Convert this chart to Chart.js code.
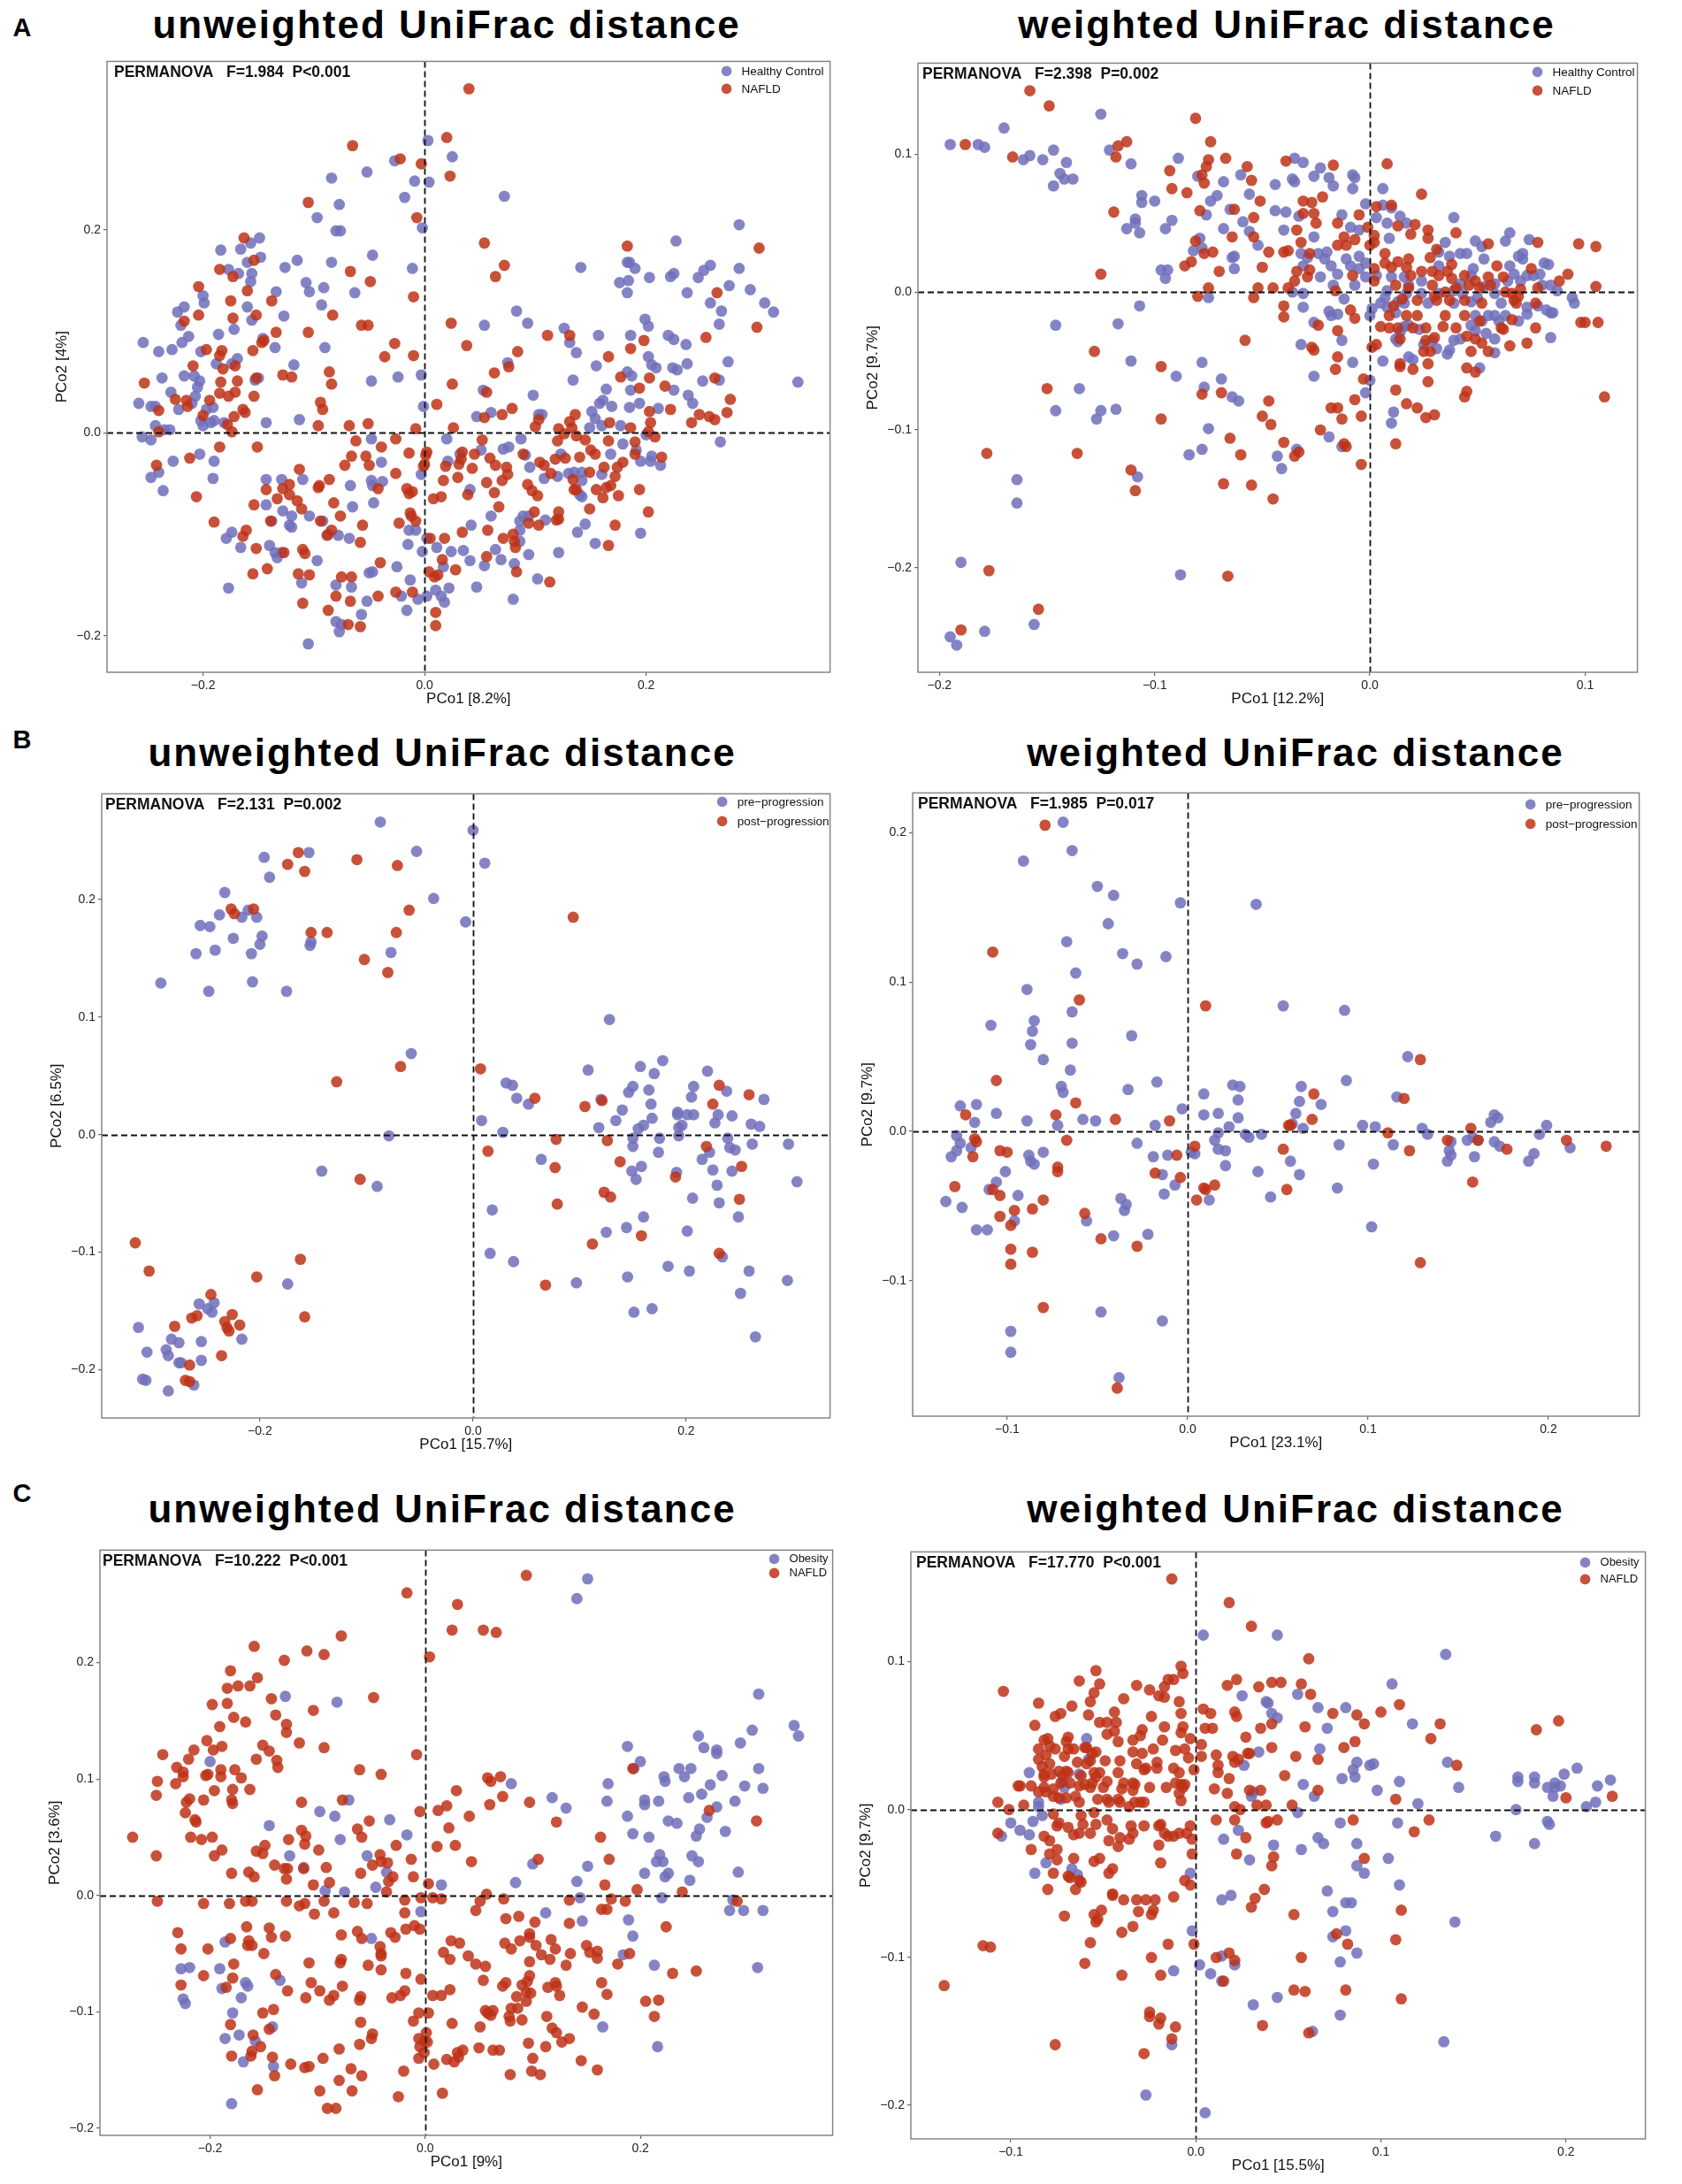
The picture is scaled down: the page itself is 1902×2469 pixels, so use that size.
<!DOCTYPE html>
<html><head><meta charset="utf-8">
<script src="https://cdn.jsdelivr.net/npm/chart.js@4.4.1/dist/chart.umd.min.js"></script>
<style>
body{margin:0;background:#fff;width:1902px;height:2469px;position:relative;overflow:hidden;font-family:"Liberation Sans",Arial,sans-serif}
.box{position:absolute}
.title{position:absolute;transform:translate(-50%,-50%);font-weight:bold;font-size:44px;letter-spacing:2px;white-space:nowrap;color:#000;line-height:1}
.letter{position:absolute;transform:translate(-50%,-50%);font-weight:bold;font-size:29px;color:#000;line-height:1}
</style></head><body>
<script>
// ---------- tick values ----------
const A1_xticks=[-0.2,0,0.2], A1_yticks=[-0.2,0,0.2];
const A2_xticks=[-0.2,-0.1,0,0.1], A2_yticks=[-0.2,-0.1,0,0.1];
const B1_xticks=[-0.2,0,0.2], B1_yticks=[-0.2,-0.1,0,0.1,0.2];
const B2_xticks=[-0.1,0,0.1,0.2], B2_yticks=[-0.1,0,0.1,0.2];
const C1_xticks=[-0.2,0,0.2], C1_yticks=[-0.2,-0.1,0,0.1,0.2];
const C2_xticks=[-0.1,0,0.1,0.2], C2_yticks=[-0.2,-0.1,0,0.1];

// ---------- group labels ----------
const groupsA=["Healthy Control","NAFLD"];
const groupsB=["pre\u2212progression","post\u2212progression"];
const groupsC=["Obesity","NAFLD"];

// ---------- A: unweighted ----------
const A1_hc=[[.003,.288],[.025,.272],[-.027,.268],[-.052,.257],[-.009,.248],[.004,.247],[-.084,.251],[-.018,.232],[-.077,.225],[.072,.233],[-.097,.212],[-.002,.202],[-.080,.199],[-.076,.199],[-.047,.175],[-.084,.168],[-.011,.162],[-.115,.170],[-.126,.163],[-.107,.148],[-.104,.139],[-.091,.143],[-.093,.126],[-.063,.138],[-.127,.115],[-.090,.084],[-.118,.067],[-.048,.051],[-.024,.055],[-.003,.057],[-.001,.026],[.083,.120],[.093,.108],[.054,.106],[.075,.069],[.053,.042],[.047,.016],[.060,.020],[.098,.037],[.103,.018],[.106,.018],[.134,.052],[.137,.079],[.126,.103],[.131,.089],[.157,.096],[.155,.066],[.141,.163],[.183,.168],[.185,.168],[.190,.162],[.176,.148],[.184,.150],[.183,.138],[.203,.153],[.227,.189],[.222,.154],[.225,.157],[.237,.138],[.247,.153],[.252,.160],[.258,.165],[.284,.205],[.284,.162],[.275,.145],[.294,.141],[.258,.128],[.268,.120],[.266,.107],[.307,.128],[.315,.119],[.199,.112],[.202,.105],[.186,.096],[.220,.096],[.225,.092],[.236,.087],[.202,.075],[.205,.067],[.209,.064],[.224,.064],[.228,.062],[.237,.068],[.251,.051],[.266,.052],[.274,.070],[.337,.050],[.183,.060],[.187,.056],[.186,.042],[.194,.029],[.185,.025],[.169,.026],[.161,.032],[.164,.043],[.158,.029],[.151,.021],[.154,.014],[.160,.007],[.149,.005],[.177,.007],[.211,.024],[.225,.042],[.238,.037],[.242,.029],[.267,-.009],[.200,-.002],[.179,-.011],[.191,-.017],[.205,-.023],[.204,-.028],[.213,-.032],[.195,-.028],[.168,-.021],[.160,-.041],[.142,-.039],[.135,-.039],[.130,-.040],[.142,-.047],[.140,-.061],[.142,-.063],[.123,-.021],[.120,-.043],[.108,-.045],[.091,-.022],[.095,-.034],[.195,-.099],[.138,-.098],[.145,-.090],[.154,-.109],[.121,-.118],[.109,-.086],[.094,-.082],[.089,-.082],[.086,-.087],[.086,-.096],[.086,-.107],[.094,-.120],[.081,-.129],[.080,-.164],[.102,-.144],[.069,-.125],[.064,-.115],[.060,-.082],[.054,-.131],[.047,-.152],[.041,-.126],[.035,-.116],[.042,-.091],[.041,-.056],[.032,-.021],[.021,-.028],[.020,-.006],[.051,-.017],[.071,-.016],[.076,-.014],[.087,-.006],[-.003,-.041],[.002,-.104],[-.002,-.117],[-.008,-.096],[-.014,-.096],[-.015,-.110],[-.025,-.132],[-.013,-.145],[-.021,-.161],[-.016,-.175],[-.006,-.164],[.002,-.161],[.010,-.155],[.015,-.161],[.018,-.167],[.017,-.132],[.022,-.153],[.011,-.113],[.024,-.117],[-.039,-.029],[-.038,-.048],[-.048,-.047],[-.046,-.069],[-.047,-.052],[-.065,-.073],[-.067,-.052],[-.048,-.006],[-.047,-.137],[-.050,-.138],[-.052,-.166],[-.057,-.179],[-.080,-.150],[-.066,-.152],[-.080,-.186],[-.077,-.196],[-.075,-.189],[-.105,-.208],[-.111,-.148],[-.097,-.126],[-.092,-.087],[-.087,-.100],[-.078,-.101],[-.068,-.104],[-.120,-.082],[-.104,-.082],[-.122,-.091],[-.120,-.093],[-.138,-.087],[-.140,-.111],[-.135,-.118],[-.133,-.123],[-.129,-.118],[-.143,-.046],[-.129,-.046],[-.110,-.046],[-.174,-.098],[-.179,-.104],[-.166,-.113],[-.177,-.153],[-.143,-.071],[-.128,-.077],[-.254,.089],[-.240,.080],[-.237,.054],[-.258,.029],[-.247,.026],[-.243,.026],[-.243,.007],[-.255,-.004],[-.247,-.007],[-.235,.003],[-.230,.003],[-.228,.082],[-.223,.119],[-.217,.124],[-.220,.106],[-.213,.095],[-.219,.089],[-.229,.040],[-.222,.023],[-.217,.056],[-.208,.056],[-.203,.051],[-.200,.135],[-.199,.128],[-.184,.180],[-.177,.161],[-.166,.181],[-.160,.168],[-.157,.187],[-.149,.192],[-.148,.173],[-.168,.157],[-.156,.157],[-.157,.149],[-.134,.139],[-.160,.124],[-.156,.111],[-.172,.102],[-.186,.097],[-.169,.073],[-.174,.068],[-.188,.068],[-.202,.080],[-.205,.045],[-.207,.036],[-.210,.029],[-.202,.012],[-.200,.007],[-.193,.010],[-.190,.012],[-.197,.023],[-.191,.025],[-.181,.010],[-.150,.054],[-.153,.052],[-.143,.010],[-.135,.084],[-.146,.093],[-.203,-.021],[-.190,-.028],[-.191,-.045],[-.227,-.028],[-.240,-.039],[-.247,-.044],[-.236,-.057],[-.113,.013]];
const A1_nafld=[[.040,.339],[-.065,.283],[.020,.291],[-.022,.270],[-.003,.265],[.023,.253],[-.105,.227],[-.007,.212],[.054,.187],[.183,.184],[.302,.182],[.072,.165],[.064,.154],[-.067,.159],[-.049,.149],[-.010,.134],[-.083,.116],[-.057,.106],[-.051,.106],[.024,.108],[-.105,.099],[-.027,.088],[-.036,.075],[-.010,.076],[.038,.086],[.111,.096],[.131,.096],[.084,.080],[.300,.104],[.254,.094],[.264,.138],[.186,.083],[.166,.075],[.198,.091],[-.086,.060],[-.084,.048],[-.128,.057],[-.120,.055],[.063,.059],[.076,.065],[.025,.048],[.056,.040],[.177,.055],[.194,.044],[.203,.054],[.217,.046],[.262,.054],[.276,.033],[.248,.018],[.257,.016],[.262,.013],[.273,.020],[.241,.010],[.222,.023],[.203,.021],[.204,.010],[.167,.010],[.186,.005],[.136,.018],[.131,.011],[.133,.005],[.121,.004],[.100,.006],[.103,.013],[.079,.024],[.011,.028],[-.094,.030],[-.092,.023],[-.096,.007],[-.068,.007],[-.051,.009],[-.008,.004],[.026,.005],[.054,.015],[.070,.018],[-.204,.144],[-.185,.161],[-.163,.192],[-.173,.154],[-.160,.140],[-.154,.170],[-.138,.130],[-.152,.116],[-.175,.130],[-.204,.116],[-.217,.110],[-.173,.113],[-.197,.082],[-.209,.066],[-.183,.081],[-.185,.076],[-.182,.063],[-.171,.066],[-.145,.091],[-.147,.089],[-.134,.099],[-.155,.081],[-.169,.051],[-.184,.050],[-.225,.033],[-.215,.032],[-.214,.026],[-.194,.032],[-.185,.039],[-.177,.036],[-.171,.040],[-.152,.054],[-.154,.036],[-.164,.023],[-.162,.020],[-.172,.016],[-.200,.017],[-.253,.049],[-.240,.022],[-.240,.001],[-.178,.008],[-.174,.001],[-.185,-.014],[-.151,-.014],[-.212,-.025],[-.242,-.032],[-.206,-.063],[-.190,-.088],[-.143,-.056],[-.133,-.065],[-.154,-.071],[-.128,-.055],[-.122,-.051],[-.113,-.036],[-.122,-.061],[-.115,-.067],[-.111,-.075],[-.139,-.087],[-.161,-.096],[-.164,-.102],[-.152,-.114],[-.155,-.139],[-.142,-.134],[-.127,-.118],[-.110,-.115],[-.108,-.119],[-.114,-.139],[-.104,-.140],[-.110,-.168],[-.095,-.052],[-.096,-.054],[-.086,-.046],[-.072,-.032],[-.066,-.023],[-.062,-.008],[-.053,-.023],[-.050,-.032],[-.039,-.014],[-.026,-.006],[-.014,-.020],[-.026,-.040],[-.042,-.055],[-.082,-.069],[-.076,-.082],[-.094,-.087],[-.088,-.101],[-.084,-.096],[-.058,-.108],[-.056,-.091],[-.075,-.142],[-.066,-.142],[-.080,-.161],[-.067,-.166],[-.087,-.175],[-.058,-.191],[-.069,-.189],[-.042,-.161],[-.040,-.128],[-.026,-.157],[-.023,-.089],[-.016,-.055],[-.014,-.060],[-.011,-.058],[-.013,-.079],[-.012,-.082],[-.008,-.087],[.001,-.022],[.002,-.019],[.000,-.031],[-.001,-.033],[.008,-.065],[.015,-.063],[.017,-.047],[.019,-.033],[.031,-.031],[.030,-.044],[.039,-.061],[.045,-.021],[.043,-.035],[.052,-.007],[.034,-.019],[.033,-.026],[.005,-.104],[.018,-.104],[.016,-.125],[.004,-.137],[.009,-.142],[.012,-.140],[.010,-.177],[.010,-.190],[-.011,-.157],[.028,-.135],[.034,-.098],[.057,-.096],[.071,-.104],[.056,-.122],[.059,-.025],[.064,-.032],[.056,-.049],[.063,-.059],[.070,-.047],[.074,-.034],[.075,-.041],[.067,-.073],[.089,-.021],[.093,-.051],[.097,-.057],[.102,-.062],[.104,-.029],[.108,-.032],[.114,-.040],[.118,-.026],[.099,-.078],[.103,-.091],[.094,-.089],[.080,-.100],[.081,-.107],[.082,-.113],[.083,-.137],[.113,-.147],[.121,-.078],[.121,-.085],[.119,-.086],[.120,-.008],[.127,-.025],[.134,-.046],[.135,-.056],[.137,-.056],[.140,-.024],[.145,-.007],[.150,-.017],[.154,-.021],[.162,-.034],[.155,-.056],[.149,-.075],[.161,-.064],[.164,-.054],[.168,-.052],[.172,-.043],[.166,-.008],[.179,-.029],[.190,-.021],[.190,-.009],[.194,-.056],[.175,-.062],[.172,-.091],[.166,-.111],[.202,-.078],[.214,-.024],[.208,-.004],[.202,.001],[.126,-.001],[.137,-.003],[.149,-.039],[.174,-.034]];

// ---------- A: weighted ----------
const A2_hc=[[-.195,.107],[-.182,.107],[-.179,.105],[-.170,.119],[-.161,.096],[-.158,.099],[-.152,.096],[-.147,.103],[-.141,.094],[-.144,.086],[-.142,.082],[-.138,.082],[-.147,.077],[-.125,.129],[-.121,.103],[-.111,.093],[-.089,.097],[-.106,.070],[-.106,.065],[-.100,.066],[-.109,.053],[-.109,.050],[-.113,.046],[-.107,.043],[-.092,.052],[-.095,.046],[-.097,.016],[-.094,.016],[-.095,.010],[-.107,-.010],[-.117,-.023],[-.146,-.024],[-.111,-.050],[-.090,-.061],[-.127,-.092],[-.125,-.086],[-.118,-.085],[-.135,-.070],[-.146,-.086],[-.164,-.136],[-.164,-.153],[-.190,-.196],[-.195,-.250],[-.192,-.256],[-.179,-.246],[-.156,-.241],[-.088,-.205],[-.108,-.134],[-.084,-.118],[-.078,-.114],[-.075,-.099],[-.077,-.069],[-.078,-.051],[-.069,-.063],[-.064,-.076],[-.061,-.079],[-.043,-.119],[-.041,-.128],[-.034,-.114],[-.026,-.061],[-.032,-.038],[-.019,-.105],[-.013,-.112],[-.008,-.051],[-.002,-.073],[.000,-.064],[.010,-.095],[.011,-.087],[.006,-.050],[.018,-.047],[.020,-.049],[.012,-.034],[.013,-.036],[-.080,.084],[-.068,.080],[-.060,.085],[-.071,.070],[-.074,.066],[-.056,.071],[-.065,.060],[-.059,.051],[-.056,.044],[-.052,.034],[-.068,.046],[-.076,.056],[-.079,.039],[-.082,.030],[-.078,.032],[-.063,.026],[-.064,.025],[-.063,.017],[-.075,-.004],[-.044,.078],[-.036,.082],[-.035,.080],[-.035,.097],[-.031,.094],[-.026,.084],[-.023,.090],[-.019,.083],[-.017,.077],[-.008,.085],[-.007,.083],[-.008,.075],[.006,.075],[-.002,.064],[.006,.063],[.010,.061],[.003,.054],[.008,.050],[.014,.055],[.017,.050],[.009,.039],[.039,.054],[.035,.036],[-.044,.059],[-.040,.045],[-.039,.058],[-.033,.055],[-.026,.040],[-.032,.028],[-.031,.019],[-.029,.025],[-.024,.028],[-.021,.024],[-.020,.029],[-.018,.019],[-.013,.056],[-.009,.047],[-.005,.045],[-.005,.026],[-.011,.024],[-.009,.019],[-.015,.013],[-.017,.005],[-.023,.011],[-.031,-.001],[-.036,.000],[-.012,-.005],[-.007,.005],[-.002,.021],[-.005,.017],[-.002,.011],[.003,.012],[.008,.001],[.007,-.004],[.005,-.008],[.001,-.012],[.000,-.017],[.013,-.007],[.016,-.008],[.008,-.011],[.017,-.001],[.012,-.015],[.016,-.025],[.014,-.029],[-.019,-.014],[-.018,-.017],[-.015,-.016],[-.031,-.011],[-.026,-.022],[-.013,-.035],[.010,.011],[.016,.011],[.018,.005],[.024,.008],[.024,-.001],[.027,-.008],[.032,-.001],[.032,.019],[.032,.029],[.037,.026],[.042,.028],[.045,.028],[.049,.037],[.052,.033],[.053,.024],[.048,.017],[.047,.012],[.042,.006],[.039,.001],[.043,-.001],[.039,-.008],[.047,-.007],[.050,-.004],[.053,.004],[.058,.006],[.058,-.001],[.061,-.008],[.063,-.017],[.060,-.021],[.055,-.017],[.052,-.021],[.049,-.017],[.047,-.024],[.049,-.028],[.054,-.030],[.058,-.034],[.058,-.044],[.051,-.055],[.042,-.034],[.039,-.035],[.037,-.042],[.036,-.045],[.031,-.041],[.029,-.035],[.025,-.038],[.018,-.024],[.023,-.027],[.065,.043],[.063,.037],[.069,.026],[.071,.024],[.074,.038],[.071,.028],[.065,.019],[.067,.013],[.064,.008],[.070,.008],[.073,.012],[.076,.012],[.079,.013],[.081,.021],[.083,.020],[.080,.005],[.084,.005],[.087,.001],[.094,-.004],[.095,-.008],[.082,-.013],[.084,-.015],[.085,-.015],[.078,-.010],[.073,-.011],[.073,-.016],[.069,-.021],[.084,-.033],[.058,-.017]];
const A2_nafld=[[-.158,.146],[-.149,.135],[-.188,.107],[-.166,.098],[-.081,.126],[-.074,.109],[-.113,.109],[-.117,.106],[-.118,.098],[-.067,.097],[-.075,.096],[-.076,.091],[-.078,.085],[-.077,.079],[-.093,.088],[-.092,.075],[-.085,.072],[-.057,.091],[-.055,.081],[-.039,.095],[-.017,.092],[.008,.093],[.024,.071],[-.051,.066],[-.063,.060],[-.054,.054],[-.079,.059],[-.119,.058],[-.081,.037],[-.077,.028],[-.073,.029],[-.083,.022],[-.086,.019],[-.070,.015],[-.064,.040],[-.054,.040],[-.047,.029],[-.050,.018],[-.040,.029],[-.038,.030],[-.034,.045],[-.031,.066],[-.027,.065],[-.031,.057],[-.026,.057],[-.025,.050],[-.022,.069],[-.032,.036],[-.028,.028],[-.035,.008],[-.034,.015],[-.029,.011],[-.028,.016],[-.038,.003],[-.045,.003],[-.052,.003],[-.054,-.004],[-.080,-.003],[-.075,.003],[-.125,.013],[-.015,.050],[-.012,.040],[-.015,.034],[-.011,.034],[-.005,.056],[-.007,.038],[-.001,.047],[.002,.041],[.002,.036],[.002,.017],[.002,.008],[.000,.034],[.010,.063],[.003,.062],[.007,.028],[.007,.021],[.013,.048],[.019,.042],[.021,.049],[.027,.045],[.027,.039],[.031,.031],[.028,.025],[.018,.024],[.013,.022],[.010,.018],[.017,.018],[.019,.012],[.024,.015],[.029,.015],[.032,.012],[.036,.015],[.038,.020],[.040,.043],[.038,.010],[.040,.003],[.035,.000],[.029,.005],[.030,-.003],[.037,-.006],[.031,-.006],[.022,-.006],[.022,-.017],[.018,.003],[.012,.005],[.015,-.005],[.011,-.010],[.017,-.017],[.009,-.017],[.005,-.025],[.009,-.026],[.013,-.026],[.020,-.026],[.026,-.026],[.026,-.035],[.030,-.033],[.028,-.043],[.025,-.043],[.014,-.034],[.001,-.040],[.003,-.038],[.014,-.052],[.014,-.054],[.020,-.056],[.027,-.052],[.027,-.065],[.012,-.071],[.017,-.081],[.022,-.084],[.026,-.091],[.030,-.089],[.012,-.110],[.034,-.025],[.040,-.026],[.035,-.017],[.044,-.017],[.044,-.006],[.046,.005],[.051,.003],[.055,.011],[.056,.005],[.055,.035],[.059,.019],[.062,.011],[.063,.000],[.066,-.001],[.068,-.008],[.069,-.003],[.070,.002],[.067,-.006],[.066,-.020],[.052,-.008],[.051,-.021],[.045,-.032],[.049,-.034],[.047,-.043],[.052,-.037],[.055,-.043],[.062,-.027],[.061,-.026],[.065,-.039],[.073,-.037],[.077,-.026],[.077,-.008],[.078,.003],[.075,.017],[.078,.036],[.088,.008],[.092,.013],[.097,.035],[.105,.033],[.105,.004],[.098,-.022],[.100,-.022],[.106,-.022],[.109,-.076],[.045,-.055],[.049,-.058],[.045,-.072],[.044,-.076],[.044,.012],[.049,.008],[-.007,-.019],[-.009,-.013],[-.008,.012],[-.016,.001],[-.024,-.024],[-.015,-.028],[-.027,-.040],[-.026,-.042],[-.015,-.047],[-.058,-.035],[-.040,-.010],[-.040,-.018],[-.016,-.056],[-.003,-.063],[-.007,-.078],[-.004,-.090],[-.018,-.084],[-.015,-.084],[-.013,-.092],[-.023,-.100],[-.012,-.110],[-.011,-.112],[-.004,-.125],[-.033,-.116],[-.035,-.119],[-.040,-.109],[-.046,-.096],[-.050,-.090],[-.047,-.079],[-.045,-.150],[-.055,-.140],[-.068,-.139],[-.060,-.118],[-.065,-.106],[-.069,-.073],[-.078,-.074],[-.097,-.054],[-.097,-.092],[-.111,-.129],[-.109,-.144],[-.128,-.043],[-.150,-.070],[-.136,-.117],[-.178,-.117],[-.177,-.202],[-.154,-.230],[-.190,-.245],[-.066,-.206]];

// ---------- B: unweighted ----------
const B1_pre=[[-.087,.266],[.000,.259],[.011,.231],[-.053,.241],[-.154,.240],[-.196,.236],[-.191,.219],[-.037,.201],[-.007,.181],[-.233,.206],[-.211,.191],[-.203,.185],[-.217,.185],[-.238,.187],[-.256,.178],[-.247,.177],[-.225,.167],[-.198,.169],[-.200,.162],[-.242,.157],[-.260,.154],[-.208,.154],[-.153,.161],[-.152,.164],[-.077,.155],[-.293,.129],[-.248,.122],[-.207,.130],[-.175,.122],[-.058,.069],[-.079,-.001],[-.142,-.031],[-.090,-.044],[-.174,-.127],[-.314,-.164],[-.306,-.185],[-.283,-.174],[-.276,-.177],[-.288,-.183],[-.286,-.188],[-.276,-.194],[-.274,-.194],[-.310,-.208],[-.307,-.209],[-.286,-.218],[-.262,-.213],[-.255,-.176],[-.255,-.192],[-.257,-.144],[-.249,-.148],[-.245,-.151],[-.243,-.143],[-.217,-.174],[.128,.098],[.108,.055],[.157,.058],[.178,.063],[.170,.052],[.220,.054],[.150,.041],[.146,.036],[.165,.038],[.207,.041],[.238,.037],[.205,.032],[.273,.030],[.167,.026],[.140,.021],[.120,.030],[.168,.014],[.192,.019],[.201,.017],[.207,.017],[.192,.017],[.230,.017],[.243,.016],[.134,.012],[.160,.008],[.155,.005],[.118,.006],[.196,.008],[.193,.006],[.227,.010],[.261,.009],[.269,.007],[.193,-.001],[.175,-.003],[.150,-.003],[.239,-.003],[.150,-.010],[.241,-.011],[.246,-.013],[.262,-.008],[.296,-.008],[.174,-.015],[.222,-.015],[.215,-.021],[.158,-.027],[.225,-.030],[.243,-.031],[.149,-.031],[.153,-.038],[.191,-.032],[.229,-.043],[.304,-.040],[.206,-.054],[.231,-.058],[.160,-.070],[.249,-.070],[.144,-.079],[.125,-.083],[.201,-.082],[.234,-.104],[.259,-.116],[.203,-.116],[.183,-.112],[.145,-.121],[.097,-.126],[.295,-.124],[.251,-.135],[.168,-.148],[.151,-.151],[.265,-.172],[.064,-.021],[.028,.002],[.008,.012],[.031,.044],[.037,.042],[.041,.031],[.052,.026],[.018,-.064],[.016,-.101],[.038,-.108]];
const B1_post=[[-.164,.240],[-.174,.230],[-.158,.224],[-.109,.234],[-.071,.229],[-.060,.191],[-.227,.192],[-.224,.188],[-.206,.192],[-.152,.172],[-.137,.172],[-.072,.172],[-.102,.149],[-.080,.138],[.094,.185],[-.068,.058],[-.128,.045],[.007,.056],[.058,.031],[.105,.024],[.121,.029],[.231,.042],[.225,.026],[.259,.034],[.014,-.014],[.078,-.004],[.126,-.005],[.077,-.028],[.138,-.023],[.219,-.010],[.252,-.027],[.190,-.036],[.079,-.059],[.123,-.049],[.129,-.053],[.250,-.055],[.158,-.086],[.112,-.093],[.231,-.101],[.068,-.128],[-.106,-.038],[-.317,-.092],[-.304,-.116],[-.162,-.106],[-.203,-.121],[-.158,-.155],[-.246,-.136],[-.226,-.153],[-.259,-.154],[-.264,-.156],[-.280,-.163],[-.233,-.159],[-.219,-.162],[-.231,-.164],[-.229,-.167],[-.236,-.188],[-.266,-.196],[-.270,-.209],[-.266,-.210]];

// ---------- B: weighted ----------
const B2_pre=[[-.069,.207],[-.091,.181],[-.064,.188],[-.050,.164],[-.041,.158],[-.004,.153],[.038,.152],[-.044,.139],[-.067,.127],[-.036,.119],[-.028,.112],[-.012,.117],[-.062,.106],[-.089,.095],[.053,.084],[.087,.081],[-.064,.080],[-.085,.074],[-.086,.067],[-.031,.064],[-.064,.059],[-.087,.058],[-.080,.048],[-.109,.071],[-.065,.041],[.122,.050],[.088,.034],[-.017,.033],[-.033,.028],[-.070,.030],[-.069,.026],[.063,.030],[.009,.025],[.025,.031],[.029,.030],[.028,.021],[.028,.009],[.017,.012],[.009,.011],[-.003,.015],[.116,.023],[.062,.020],[.060,.012],[.074,.018],[.064,.002],[.058,.005],[.023,.003],[.032,-.002],[.034,-.004],[.041,-.002],[.017,-.001],[.015,-.006],[.017,-.012],[.021,-.013],[.021,-.023],[.004,-.015],[.002,-.014],[-.011,-.016],[-.019,-.017],[-.014,-.029],[-.013,-.042],[-.007,-.036],[.012,-.046],[-.028,-.008],[-.018,.004],[-.051,.007],[-.058,.008],[-.072,.004],[-.089,.007],[-.106,.012],[-.117,.018],[-.126,.017],[-.118,.006],[-.128,-.003],[-.120,-.011],[-.126,-.008],[-.128,-.013],[-.131,-.017],[-.088,-.016],[-.087,-.020],[-.085,-.022],[-.080,-.014],[-.101,-.027],[-.106,-.034],[-.110,-.039],[-.134,-.047],[-.125,-.051],[-.117,-.066],[-.111,-.066],[-.094,-.043],[-.096,-.060],[-.056,-.060],[-.041,-.070],[-.037,-.045],[-.034,-.049],[-.035,-.053],[-.022,-.069],[.039,-.027],[.046,-.044],[.057,-.020],[.062,-.029],[.084,-.009],[.083,-.038],[.097,.004],[.104,.003],[.103,-.022],[.114,-.009],[.130,.002],[.133,-.002],[.102,-.064],[.146,-.007],[.145,-.013],[.146,-.016],[.144,-.020],[.155,-.006],[.158,-.004],[.161,-.006],[.159,-.017],[.168,.006],[.170,.011],[.172,.009],[.170,-.007],[.173,-.010],[.195,-.002],[.199,.004],[.192,-.015],[.189,-.020],[.212,-.011],[-.048,-.121],[-.014,-.127],[-.098,-.134],[-.098,-.148],[-.038,-.165]];
const B2_post=[[-.079,.205],[-.108,.120],[-.060,.088],[.010,.084],[-.106,.034],[.129,.048],[.070,.025],[.069,.008],[.057,.004],[.120,.022],[.111,-.001],[-.062,.019],[-.073,.011],[-.040,.008],[-.010,.007],[-.123,.011],[-.118,-.005],[-.117,-.007],[-.119,-.017],[-.104,-.013],[-.100,-.014],[-.067,-.006],[-.072,-.024],[-.072,-.027],[-.129,-.037],[-.108,-.039],[-.104,-.043],[-.096,-.053],[-.104,-.057],[-.098,-.063],[-.098,-.079],[-.098,-.089],[-.080,-.046],[-.086,-.052],[-.086,-.081],[-.080,-.118],[-.057,-.055],[-.048,-.072],[-.028,-.077],[-.018,-.028],[-.006,-.016],[-.004,-.031],[.004,-.010],[.009,-.038],[.010,-.039],[.015,-.036],[.005,-.046],[.053,-.012],[.055,-.039],[.056,.004],[.123,-.013],[.129,-.088],[.144,-.006],[.157,.002],[.161,-.006],[.158,-.034],[.177,-.012],[.210,-.006],[.232,-.010],[-.039,-.172]];

// ---------- C: unweighted ----------
const C1_ob=[[.151,.272],[.141,.255],[-.130,.171],[-.082,.166],[-.200,.115],[-.071,.082],[-.098,.072],[-.084,.068],[-.033,.065],[-.145,.060],[-.079,.048],[-.017,.052],[-.126,.034],[-.054,.034],[-.113,.024],[-.036,.020],[-.046,.007],[-.093,.004],[-.075,.003],[.015,.009],[-.004,-.014],[.080,.096],[.118,.084],[.131,.075],[.100,.027],[.084,.011],[.151,.025],[.141,.012],[.144,-.002],[.112,-.015],[.146,-.022],[.170,.096],[.169,.081],[.188,.128],[.194,.109],[.200,.115],[.188,.068],[.193,.053],[.204,.082],[.204,.078],[.217,.081],[.222,.102],[.223,.098],[.236,.109],[.241,.102],[.247,.109],[.226,.064],[.234,.062],[.208,.050],[.218,.035],[.221,.029],[.215,.029],[.204,.019],[.226,.019],[.223,.016],[.246,.013],[.248,.034],[.254,.029],[.252,.051],[.255,.057],[.245,.084],[.257,.087],[.262,.067],[.271,.076],[.265,.095],[.254,.137],[.259,.127],[.271,.125],[.271,.122],[.276,.103],[.279,.055],[.288,.081],[.293,.131],[.297,.094],[.304,.142],[.310,.173],[.310,.109],[.314,.092],[.343,.146],[.347,.137],[.291,.020],[.286,-.004],[.283,-.013],[.296,-.013],[.314,-.013],[.309,-.062],[.220,-.002],[.189,-.021],[.193,-.035],[.184,-.051],[.213,-.060],[.216,-.130],[.165,-.113],[-.050,-.037],[-.186,-.040],[-.227,-.063],[-.219,-.062],[-.191,-.063],[-.225,-.089],[-.223,-.093],[-.189,-.080],[-.167,-.075],[-.165,-.078],[-.171,-.088],[-.135,-.073],[-.179,-.101],[-.186,-.123],[-.173,-.120],[-.158,-.125],[-.142,-.113],[-.169,-.143],[-.141,-.147],[-.180,-.179]];
const C1_nafld=[[.094,.275],[-.017,.260],[.030,.250],[.025,.228],[.054,.228],[.066,.226],[.004,.205],[-.078,.223],[-.159,.214],[-.110,.210],[-.094,.207],[-.131,.202],[-.181,.193],[-.156,.187],[-.174,.180],[-.163,.180],[-.184,.178],[-.143,.169],[-.048,.170],[-.198,.164],[-.184,.165],[-.178,.153],[-.167,.149],[-.139,.155],[-.129,.147],[-.129,.140],[-.104,.159],[-.191,.145],[-.203,.133],[-.215,.125],[-.189,.128],[-.197,.125],[-.244,.121],[-.220,.117],[-.151,.129],[-.145,.124],[-.157,.117],[-.138,.116],[-.137,.110],[-.117,.131],[-.094,.127],[-.008,.121],[-.231,.110],[-.225,.106],[-.225,.102],[-.249,.098],[-.232,.096],[-.204,.103],[-.202,.104],[-.190,.108],[-.190,.102],[-.177,.108],[-.171,.101],[-.163,.091],[-.179,.091],[-.196,.090],[-.061,.108],[-.041,.104],[-.250,.086],[-.219,.083],[-.222,.080],[-.180,.082],[-.179,.079],[-.206,.082],[-.223,.071],[-.214,.065],[-.213,.063],[-.218,.050],[-.272,.050],[-.208,.048],[-.198,.050],[-.189,.039],[-.196,.034],[-.250,.034],[-.180,.019],[-.164,.020],[-.159,.016],[-.115,.080],[-.077,.082],[-.115,.056],[-.111,.051],[-.127,.048],[-.112,.044],[-.157,.038],[-.151,.036],[-.149,.043],[-.140,.026],[-.128,.023],[-.131,.023],[-.129,.014],[-.113,.023],[-.104,.009],[-.089,.011],[-.099,.039],[-.092,.024],[-.063,.057],[-.059,.050],[-.052,.064],[-.060,.019],[-.049,.026],[-.042,.035],[-.041,.029],[-.035,.028],[-.030,.016],[-.034,.012],[-.036,.003],[-.027,.043],[-.013,.031],[-.011,.016],[-.005,.072],[.012,.073],[.020,.077],[.022,.058],[.011,.042],[.028,.043],[.041,.068],[.043,.029],[.029,.090],[.058,.101],[.061,.098],[.070,.102],[.060,.078],[.072,.085],[.097,.080],[.122,.063],[.105,.031],[.163,.050],[.171,.031],[.167,.009],[.197,.005],[.239,.003],[.264,.073],[.308,.064],[.193,.109],[.290,-.005],[.003,.010],[.007,-.002],[-.004,-.002],[-.019,-.004],[.015,-.003],[.057,.001],[.051,-.005],[.047,-.013],[.073,-.003],[.134,-.004],[.164,-.012],[.169,-.012],[.173,-.003],[.186,-.005],[.224,-.027],[.075,-.020],[.087,-.018],[.102,-.023],[.134,-.024],[-.249,-.005],[-.206,-.007],[-.182,-.007],[-.167,-.005],[-.161,-.005],[-.117,-.009],[-.112,-.007],[-.129,-.005],[-.103,-.016],[-.085,-.015],[-.094,-.005],[-.066,-.006],[-.054,-.007],[-.019,-.015],[-.010,-.026],[-.032,-.032],[-.028,-.036],[-.018,-.029],[-.005,-.029],[-.230,-.032],[-.227,-.046],[-.202,-.046],[-.181,-.037],[-.166,-.027],[-.164,-.039],[-.165,-.043],[-.161,-.043],[-.145,-.028],[-.143,-.036],[-.130,-.035],[-.150,-.050],[-.078,-.034],[-.063,-.031],[-.059,-.037],[-.042,-.044],[-.041,-.050],[-.041,-.052],[-.178,-.059],[-.108,-.058],[-.079,-.058],[-.078,-.055],[-.053,-.060],[-.041,-.064],[-.018,-.067],[-.206,-.069],[-.227,-.077],[-.185,-.079],[-.179,-.071],[-.139,-.068],[-.128,-.082],[-.106,-.075],[-.098,-.082],[-.077,-.078],[-.085,-.086],[-.089,-.090],[-.111,-.088],[-.060,-.087],[-.061,-.090],[-.031,-.088],[-.023,-.086],[-.004,-.072],[.007,-.086],[.015,-.086],[.023,-.081],[.017,-.049],[.024,-.039],[.032,-.041],[.023,-.055],[.047,-.059],[.056,-.061],[.054,-.073],[.072,-.078],[.075,-.075],[.074,-.041],[.080,-.046],[.088,-.039],[.097,-.033],[.097,-.036],[.103,-.043],[.108,-.051],[.117,-.038],[.121,-.046],[.116,-.055],[.097,-.057],[.097,-.069],[.131,-.060],[.135,-.050],[.121,-.075],[.122,-.078],[.114,-.079],[.125,-.086],[.095,-.074],[.098,-.084],[.094,-.083],[.094,-.091],[.090,-.077],[.085,-.087],[.080,-.097],[.086,-.097],[.078,-.104],[.079,-.108],[.063,-.099],[.058,-.101],[.061,-.103],[.051,-.113],[.056,-.099],[.090,-.107],[.113,-.104],[.118,-.114],[.122,-.118],[.134,-.123],[.127,-.126],[.112,-.130],[.096,-.127],[.100,-.140],[.099,-.151],[.107,-.154],[.079,-.154],[.069,-.133],[.063,-.133],[.050,-.131],[.035,-.133],[.030,-.135],[.031,-.139],[.027,-.143],[.020,-.141],[.016,-.170],[.008,-.145],[.025,-.110],[.001,-.118],[.002,-.126],[-.001,-.125],[-.006,-.123],[-.005,-.130],[-.001,-.135],[-.006,-.140],[-.006,-.101],[.003,-.101],[-.011,-.108],[-.020,-.151],[-.025,-.173],[-.050,-.123],[-.049,-.119],[-.060,-.109],[-.061,-.128],[-.059,-.155],[-.069,-.149],[-.068,-.168],[-.080,-.159],[-.080,-.132],[-.083,-.183],[-.091,-.183],[-.098,-.168],[-.095,-.140],[-.108,-.147],[-.112,-.148],[-.125,-.145],[-.140,-.155],[-.142,-.139],[-.141,-.098],[-.151,-.101],[-.145,-.115],[-.153,-.130],[-.160,-.120],[-.161,-.134],[-.162,-.138],[-.156,-.167],[-.180,-.138],[-.181,-.111],[-.019,-.082],[.040,-.052],[.160,-.048],[.150,-.043],[.153,-.049],[.160,-.054],[.179,-.059],[.190,-.050],[.164,-.075],[.169,-.085],[.146,-.096],[.157,-.102],[.145,-.142],[.160,-.150],[.205,-.091],[.217,-.090],[.213,-.104],[.230,-.067],[.252,-.065]];

// ---------- C: weighted ----------
const C2_ob=[[.004,.118],[.044,.118],[.135,.105],[.106,.085],[.025,.077],[.038,.073],[.039,.072],[.055,.078],[.066,.069],[.081,.069],[.041,.065],[.044,.062],[.117,.058],[.071,.055],[.067,.041],[.034,.039],[.026,.030],[.087,.032],[.094,.030],[.096,.031],[.085,.027],[.086,.022],[.079,.021],[.058,.017],[.110,.019],[.098,.013],[.142,.015],[.136,.032],[.120,.004],[.064,.009],[.030,.009],[.031,.012],[.055,-.002],[.109,-.009],[.078,-.009],[.066,-.019],[.069,-.023],[.057,-.027],[.087,-.023],[.104,-.033],[.087,-.038],[.091,-.043],[.110,-.051],[.071,-.055],[.074,-.069],[.081,-.063],[.084,-.063],[.081,-.082],[.074,-.086],[.087,-.097],[.078,-.103],[.078,-.139],[.063,-.150],[.044,-.127],[.031,-.132],[.134,-.157],[.140,-.076],[.015,-.020],[.023,-.014],[.029,-.034],[.042,-.024],[.014,-.061],[.019,-.058],[-.003,-.043],[-.002,-.082],[.002,-.105],[.008,-.111],[.014,-.099],[.014,-.116],[.021,-.105],[-.012,-.109],[-.013,-.159],[-.027,-.193],[.005,-.205],[.174,.019],[.174,.022],[.183,.022],[.183,.018],[.190,.015],[.194,.018],[.194,.015],[.197,.016],[.199,.024],[.206,.028],[.217,.016],[.224,.020],[.193,.009],[.211,.002],[.216,.005],[.173,.000],[.190,-.008],[.191,-.010],[.162,-.018],[.183,-.023],[-.059,.048],[-.058,.034],[-.090,.025],[-.072,.019],[-.071,.015],[-.085,.005],[-.085,.002],[-.083,-.004],[-.088,-.008],[-.100,-.009],[-.095,-.014],[-.090,-.017],[-.105,-.018],[-.081,-.036],[-.087,-.043],[-.067,-.040],[-.064,-.044],[-.073,.007],[-.063,.024]];
const C2_nafld=[[-.013,.156],[.018,.140],[.030,.124],[.061,.102],[-.104,.080],[-.054,.094],[-.063,.087],[-.052,.085],[-.055,.079],[-.057,.073],[-.032,.084],[-.025,.081],[-.017,.083],[-.015,.088],[-.012,.088],[-.008,.097],[-.007,.092],[-.020,.077],[-.017,.076],[-.039,.075],[-.009,.073],[.017,.084],[.022,.088],[.034,.083],[.041,.086],[.046,.086],[.057,.085],[.062,.078],[.004,.068],[.008,.065],[.021,.066],[.022,.063],[.074,.065],[.087,.064],[.091,.058],[.100,.066],[.110,.071],[.132,.058],[.127,.048],[.141,.030],[.184,.054],[.196,.060],[.200,.008],[.225,.009],[.126,-.007],[.118,-.015],[.108,.007],[.085,-.007],[.091,-.033],[.086,.046],[.080,.042],[.059,.056],[.054,.036],[.066,.013],[.066,.034],[.041,.058],[.041,.042],[.048,.023],[.052,.003],[.035,.055],[.027,.049],[.029,.038],[.028,.038],[.020,.036],[.023,.034],[.021,.032],[.018,.021],[.011,.037],[.012,.030],[.012,.025],[.010,.014],[.017,.011],[.021,.002],[.024,.000],[.029,.013],[.035,.013],[.033,.003],[.038,.003],[.044,-.007],[.038,-.009],[.039,-.008],[.027,-.019],[.022,-.030],[.011,-.007],[.021,-.007],[.005,.055],[.009,.055],[.003,.036],[.003,.044],[-.003,.048],[-.006,.041],[-.004,.035],[-.001,.027],[-.006,.017],[-.007,.015],[-.008,.006],[-.003,-.011],[-.002,-.020],[-.002,-.030],[-.006,-.048],[-.003,-.051],[-.011,.040],[-.012,.028],[-.009,.025],[-.008,.017],[-.017,.056],[-.018,.047],[-.023,.041],[-.029,.038],[-.028,.027],[-.021,.028],[-.021,.032],[-.008,.065],[-.007,.056],[-.008,.052],[-.024,.063],[-.029,.054],[-.030,.050],[-.025,.015],[-.016,.015],[-.011,.018],[-.009,.011],[-.020,-.011],[-.019,-.010],[-.017,-.016],[-.015,-.018],[-.012,-.018],[-.009,-.016],[-.005,-.016],[-.020,-.024],[-.019,-.036],[-.036,-.020],[-.034,-.016],[-.035,-.011],[-.028,-.011],[-.022,-.061],[-.027,-.061],[-.023,-.068],[-.024,-.071],[-.032,-.061],[-.031,-.069],[-.034,-.079],[-.040,-.083],[-.040,-.112],[-.024,-.100],[-.019,-.112],[-.015,-.091],[-.012,-.059],[-.001,-.091],[-.025,-.137],[-.025,-.140],[-.019,-.141],[-.020,-.145],[-.011,-.147],[-.013,-.155],[-.028,-.165],[-.076,-.159],[-.060,-.104],[-.057,-.090],[-.053,-.074],[-.055,-.071],[-.051,-.068],[-.054,-.076],[-.045,-.057],[-.045,-.058],[-.039,-.061],[-.045,-.040],[-.052,-.033],[-.047,-.043],[-.055,-.035],[-.071,-.072],[-.080,-.054],[-.069,-.045],[-.068,-.046],[-.062,-.049],[-.063,-.048],[-.066,-.033],[-.075,-.034],[-.075,-.027],[-.079,-.021],[-.082,-.018],[-.079,-.030],[-.089,-.027],[-.107,-.016],[-.101,.000],[-.107,.005],[-.093,.003],[-.095,.016],[-.089,.016],[-.085,.012],[-.082,.015],[-.081,.012],[-.077,.009],[-.074,.008],[-.070,.008],[-.065,.009],[-.063,.005],[-.075,-.011],[-.074,-.009],[-.069,-.012],[-.063,-.016],[-.062,-.004],[-.061,-.010],[-.055,-.002],[-.053,.007],[-.048,.007],[-.047,.005],[-.042,.007],[-.041,.005],[-.036,.002],[-.033,.005],[-.030,.005],[-.028,.005],[-.034,.013],[-.039,.018],[-.040,.014],[-.033,.017],[-.042,.025],[-.048,.019],[-.052,.025],[-.050,.015],[-.055,.025],[-.057,.015],[-.060,.017],[-.063,.016],[-.062,.023],[-.068,.018],[-.073,.018],[-.077,.014],[-.078,.024],[-.074,.026],[-.070,.026],[-.072,.023],[-.064,.032],[-.057,.033],[-.059,.031],[-.056,.038],[-.059,.042],[-.060,.042],[-.066,.041],[-.069,.041],[-.071,.036],[-.070,.046],[-.069,.049],[-.076,.041],[-.080,.048],[-.079,.043],[-.082,.047],[-.085,.034],[-.083,.029],[-.082,.024],[-.082,.022],[-.079,.031],[-.085,.041],[-.096,.016],[-.087,.057],[-.085,.072],[-.076,.063],[-.073,.065],[-.067,.070],[-.058,.064],[-.052,.059],[-.048,.059],[-.044,.066],[-.043,.059],[-.044,.053],[-.048,.051],[-.042,.046],[-.041,.033],[-.034,.039],[-.032,.031],[-.027,.028],[-.034,.047],[-.034,.018],[-.054,.039],[-.049,.033],[-.054,.022],[-.056,.018],[-.069,.025],[-.081,.037],[-.077,-.003],[-.048,-.007],[-.045,-.013],[-.041,-.019],[-.042,-.025],[-.047,-.021],[-.054,-.010],[-.066,-.017],[-.057,-.016],[-.077,-.043],[-.065,-.054],[-.115,-.092],[-.111,-.093],[-.136,-.119],[.011,-.100],[.018,-.097],[.021,-.102],[.015,-.116],[.036,-.146],[.053,-.122],[.059,-.123],[.061,-.151],[.081,-.122],[.076,-.084],[.082,-.091],[.057,-.100],[.053,-.071],[.030,-.066],[.032,-.060],[.037,-.054],[.041,-.038],[.042,-.032],[.108,-.088],[.111,-.128],[.111,-.068]];

// ---------- colours ----------
const colBlue="rgba(112,112,188,0.86)", colRed="rgba(190,50,23,0.85)";

const panels=[
 {id:"A1",rect:[121,60,943,760],xr:[-0.2867,0.366],yr:[-0.236,0.366],xt:A1_xticks,yt:A1_yticks,xl:"PCo1 [8.2%]",yl:"PCo2 [4%]",stat:"PERMANOVA   F=1.984  P<0.001",sx:8,groups:groupsA,a:A1_hc,b:A1_nafld,lr:7,ly:11,lg:20,lf:13.5},
 {id:"A2",rect:[1038,62,1856,760],xr:[-0.210,0.1243],yr:[-0.2757,0.166],xt:A2_xticks,yt:A2_yticks,xl:"PCo1 [12.2%]",yl:"PCo2 [9.7%]",stat:"PERMANOVA   F=2.398  P=0.002",sx:5,groups:groupsA,a:A2_hc,b:A2_nafld,lr:3,ly:10,lg:21,lf:13.5},
 {id:"B1",rect:[115,888,943,1603],xr:[-0.3485,0.335],yr:[-0.241,0.290],xt:B1_xticks,yt:B1_yticks,xl:"PCo1 [15.7%]",yl:"PCo2 [6.5%]",stat:"PERMANOVA   F=2.131  P=0.002",sx:4,groups:groupsB,a:B1_pre,b:B1_post,lr:1,ly:9,lg:22,lf:13.5},
 {id:"B2",rect:[1032,887,1858,1601],xr:[-0.1524,0.2503],yr:[-0.1908,0.2266],xt:B2_xticks,yt:B2_yticks,xl:"PCo1 [23.1%]",yl:"PCo2 [9.7%]",stat:"PERMANOVA   F=1.985  P=0.017",sx:6,groups:groupsB,a:B2_pre,b:B2_post,lr:2,ly:13,lg:22,lf:13.5},
 {id:"C1",rect:[113,1743,946,2414],xr:[-0.3024,0.3788],yr:[-0.2062,0.2967],xt:C1_xticks,yt:C1_yticks,xl:"PCo1 [9%]",yl:"PCo2 [3.6%]",stat:"PERMANOVA   F=10.222  P<0.001",sx:3,groups:groupsC,a:C1_ob,b:C1_nafld,lr:5,ly:10,lg:16,lf:13},
 {id:"C2",rect:[1030,1745,1865,2418],xr:[-0.154,0.2429],yr:[-0.2227,0.1743],xt:C2_xticks,yt:C2_yticks,xl:"PCo1 [15.5%]",yl:"PCo2 [9.7%]",stat:"PERMANOVA   F=17.770  P<0.001",sx:6,groups:groupsC,a:C2_ob,b:C2_nafld,lr:7,ly:12,lg:19,lf:13}
];
const titles=[["unweighted UniFrac distance",505,28],["weighted UniFrac distance",1455,28],["unweighted UniFrac distance",500,851],["weighted UniFrac distance",1465,851],["unweighted UniFrac distance",500,1706],["weighted UniFrac distance",1465,1706]];
const letters=[["A",25,31],["B",25,836],["C",25,1688]];

titles.forEach(([t,x,y])=>{const d=document.createElement('div');d.className='title';d.textContent=t;d.style.left=x+'px';d.style.top=y+'px';document.body.appendChild(d);});
letters.forEach(([t,x,y])=>{const d=document.createElement('div');d.className='letter';d.textContent=t;d.style.left=x+'px';d.style.top=y+'px';document.body.appendChild(d);});

const FONT='"Liberation Sans", Arial, sans-serif';
Chart.defaults.font.family=FONT;
const fmt=v=>{const r=Math.round(v*10)/10;return r===0?"0.0":(r<0?"\u2212":"")+Math.abs(r).toFixed(1);};
const PR_=6.4;

const decor={id:'decor',
 afterDatasetsDraw(c){const {ctx,chartArea:a,scales:{x,y}}=c;ctx.save();ctx.strokeStyle='#111';ctx.lineWidth=1.8;ctx.setLineDash([7,4]);
  const x0=Math.round(x.getPixelForValue(0))+0.5,y0=Math.round(y.getPixelForValue(0))+0.5;
  ctx.beginPath();ctx.moveTo(x0,a.top);ctx.lineTo(x0,a.bottom);ctx.moveTo(a.left,y0);ctx.lineTo(a.right,y0);ctx.stroke();ctx.restore();},
 afterDraw(c){const o=c.options.plugins.decor;const {ctx,chartArea:a}=c;ctx.save();
  ctx.strokeStyle='#858585';ctx.lineWidth=1.5;ctx.strokeRect(a.left,a.top,a.right-a.left,a.bottom-a.top);
  ctx.fillStyle='#111';ctx.textBaseline='middle';ctx.textAlign='left';
  ctx.font='bold 17.5px '+FONT;ctx.fillText(o.stat,a.left+o.sx,a.top+13);
  ctx.font=o.lf+'px '+FONT;
  const w=Math.max(...o.groups.map(g=>ctx.measureText(g).width));
  const tx=a.right-o.lr-w;
  o.groups.forEach((g,i)=>{const yy=a.top+o.ly+i*o.lg;ctx.fillStyle=i===0?colBlue:colRed;ctx.beginPath();ctx.arc(tx-17,yy,5.8,0,Math.PI*2);ctx.fill();ctx.fillStyle='#111';ctx.fillText(g,tx,yy+0.5);});
  ctx.restore();}
};

panels.forEach(p=>{
 const W=70,H=50,PT=2,PR=2;const [l,t,r,b]=p.rect;
 const d=document.createElement('div');d.className='box';
 d.style.left=(l-W)+'px';d.style.top=(t-PT)+'px';d.style.width=(r-l+W+PR)+'px';d.style.height=(b-t+PT+H)+'px';
 const cv=document.createElement('canvas');d.appendChild(cv);document.body.appendChild(d);
 const axis=(min,max,ticks,label,isX)=>({type:'linear',min,max,
  afterBuildTicks:s=>{s.ticks=ticks.map(v=>({value:v}));},
  afterFit:s=>{if(isX)s.height=H;else s.width=W;},
  ticks:{autoSkip:false,maxRotation:0,font:{size:14},color:'#222',padding:3,callback:v=>fmt(v)},
  grid:{display:true,drawOnChartArea:false,drawTicks:true,tickLength:4,color:'#666',lineWidth:1.2},
  border:{display:false},
  title:{display:true,text:label,font:{size:17},color:'#111',padding:{top:9,bottom:9}}});
 new Chart(cv,{type:'scatter',
  data:{datasets:[
   {label:p.groups[1],data:p.b.map(([x,y])=>({x,y})),backgroundColor:colRed,borderWidth:0,pointRadius:PR_,pointHoverRadius:PR_,clip:false,order:0},
   {label:p.groups[0],data:p.a.map(([x,y])=>({x,y})),backgroundColor:colBlue,borderWidth:0,pointRadius:PR_,pointHoverRadius:PR_,clip:false,order:1}]},
  options:{responsive:true,maintainAspectRatio:false,animation:false,devicePixelRatio:1,
   layout:{padding:{top:PT,right:PR,left:0,bottom:0}},
   plugins:{legend:{display:false},tooltip:{enabled:false},decor:{stat:p.stat,sx:p.sx,groups:p.groups,lr:p.lr,ly:p.ly,lg:p.lg,lf:p.lf}},
   scales:{x:axis(p.xr[0],p.xr[1],p.xt,p.xl,true),y:axis(p.yr[0],p.yr[1],p.yt,p.yl,false)}},
  plugins:[decor]});
});
</script>
</body></html>
